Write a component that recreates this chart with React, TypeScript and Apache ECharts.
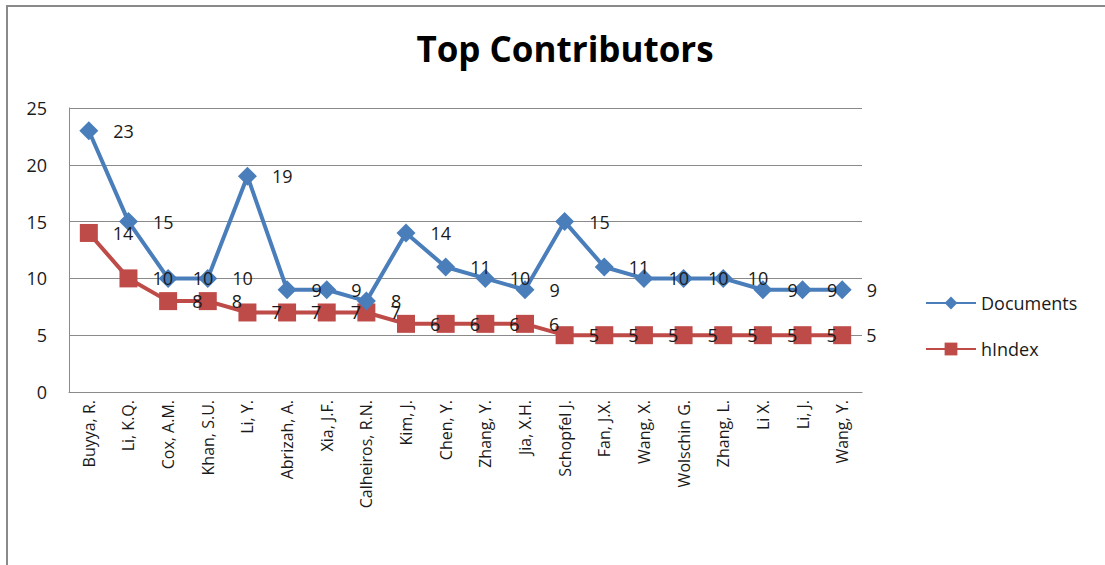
import React, { useEffect, useRef } from "react";
import * as echarts from "echarts";

const categories = [
  "Buyya, R.", "Li, K.Q.", "Cox, A.M.", "Khan, S.U.", "Li, Y.", "Abrizah, A.",
  "Xia, J.F.", "Calheiros, R.N.", "Kim, J.", "Chen, Y.", "Zhang, Y.", "Jia, X.H.",
  "Schopfel J.", "Fan, J.X.", "Wang, X.", "Wolschin G.", "Zhang, L.", "Li X.",
  "Li, J.", "Wang, Y.",
];
const documents = [23, 15, 10, 10, 19, 9, 9, 8, 14, 11, 10, 9, 15, 11, 10, 10, 10, 9, 9, 9];
const hIndex = [14, 10, 8, 8, 7, 7, 7, 7, 6, 6, 6, 6, 5, 5, 5, 5, 5, 5, 5, 5];
const yTicks = { min: 0, max: 25, interval: 5 };

const FONT = "'Open Sans', 'Noto Sans', sans-serif";

export default function App() {
  const ref = useRef<HTMLDivElement>(null);
  useEffect(() => {
    if (!ref.current) return;
    const chart = echarts.init(ref.current, null, { renderer: "svg" });
    const labelStyle = {
      show: true,
      position: "right" as const,
      distance: 15,
      color: "#1a1a1a",
      fontSize: 18,
      fontFamily: FONT,
    };
    const labelOnly = (name: string, data: number[], symbol: string, size: number) => ({
      name,
      type: "line",
      data,
      symbol,
      symbolSize: size,
      showSymbol: true,
      lineStyle: { width: 0, opacity: 0 },
      itemStyle: { color: "rgba(0,0,0,0)", borderWidth: 0 },
      label: labelStyle,
      silent: true,
      z: 10,
    });
    chart.setOption({
      animation: false,
      backgroundColor: "#ffffff",
      textStyle: { fontFamily: FONT },
      graphic: [
        {
          type: "rect",
          shape: { x: 7, y: 6, width: 1200, height: 700 },
          style: { fill: "none", stroke: "#8a8a8a", lineWidth: 2 },
          silent: true,
        },
      ],
      title: {
        text: "Top Contributors",
        left: 560,
        top: 26,
        textAlign: "center",
        textStyle: { fontSize: 35, fontWeight: "bold", color: "#000", fontFamily: FONT },
      },
      legend: {
        orient: "vertical",
        left: 920,
        top: 289,
        itemWidth: 50,
        itemHeight: 16,
        itemGap: 28,
        textStyle: { fontSize: 18, color: "#1a1a1a", fontFamily: FONT },
        data: ["Documents", "hIndex"],
      },
      grid: { left: 69, right: 243, top: 108, bottom: 173, containLabel: false },
      xAxis: {
        type: "category",
        data: categories,
        boundaryGap: true,
        axisLine: { show: true, lineStyle: { color: "#8a8a8a", width: 1 } },
        axisTick: { show: false },
        axisLabel: {
          interval: 0,
          rotate: 90,
          margin: 8,
          fontSize: 16,
          color: "#1a1a1a",
          fontFamily: FONT,
        },
      },
      yAxis: {
        type: "value",
        min: yTicks.min,
        max: yTicks.max,
        interval: yTicks.interval,
        axisLine: { show: true, lineStyle: { color: "#8a8a8a", width: 1 } },
        axisTick: { show: false },
        splitLine: { show: true, lineStyle: { color: "#8a8a8a", width: 1 } },
        axisLabel: { fontSize: 18, color: "#1a1a1a", margin: 22, fontFamily: FONT },
      },
      series: [
        {
          name: "Documents",
          type: "line",
          data: documents,
          symbol: "diamond",
          symbolSize: 19,
          color: "#4a7ebb",
          lineStyle: { width: 4, color: "#4a7ebb" },
          itemStyle: { color: "#4a7ebb" },
          label: { show: false },
          z: 3,
        },
        {
          name: "hIndex",
          type: "line",
          data: hIndex,
          symbol: "rect",
          symbolSize: 18,
          color: "#be4b48",
          lineStyle: { width: 4, color: "#be4b48" },
          itemStyle: { color: "#be4b48" },
          label: { show: false },
          z: 2,
        },
        labelOnly("Documents labels", documents, "diamond", 19),
        labelOnly("hIndex labels", hIndex, "rect", 18),
      ],
    });
    return () => chart.dispose();
  }, []);
  return (
    <div
      ref={ref}
      style={{ position: "fixed", left: 0, top: 0, width: 1105, height: 565, background: "#fff" }}
    />
  );
}
